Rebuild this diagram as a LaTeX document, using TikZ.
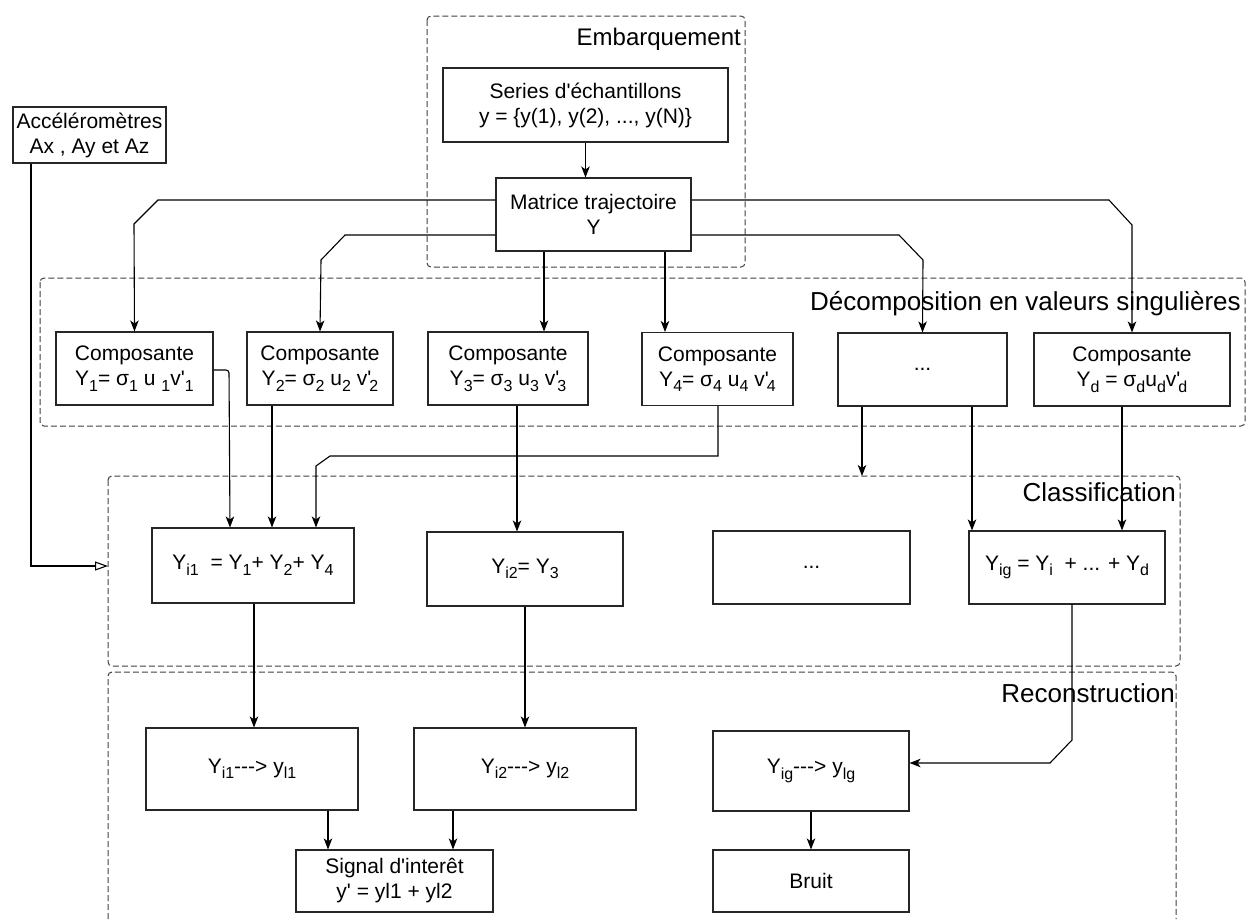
\documentclass[tikz,border=0pt]{standalone}
\usepackage{fontspec}
\setmainfont{Liberation Sans}[Ligatures=TeXOff]
\usetikzlibrary{arrows.meta}

\newcommand\bodyfont{\fontsize{21}{25}\selectfont}
\newcommand\titlefont{\fontsize{26}{30}\selectfont}
\newcommand\sbs[1]{\raisebox{-5.5pt}{\fontsize{16}{16}\selectfont #1}}

\tikzset{
  box/.style={draw=black!85, line width=1.1pt, inner sep=0pt, align=center,
              font=\bodyfont, minimum height=73pt},
  grp/.style={draw=black!75, line width=1pt, dash pattern=on 6pt off 3pt,
              rounded corners=4pt},
  grptitle/.style={anchor=base east, inner sep=0pt, font=\titlefont},
  arr/.style={draw=black, line width=1.1pt,
              -{Stealth[length=11pt, width=8.5pt, inset=3pt]}},
  openarr/.style={draw=black, line width=1.1pt,
              -{Triangle[open, length=13pt, width=9pt]}}
}

\begin{document}
\begin{tikzpicture}[x=1pt, y=-1pt]
\useasboundingbox (0,0) rectangle (1248,919);

% group frames
\draw[grp] (427,16) rectangle (745,267);
\draw[grp] (40,278) rectangle (1245,426);
\draw[grp] (108,476) rectangle (1180,666);
\draw[grp] (108,919) -- (108,672) -- (1176,672) -- (1176,919);

\node[grptitle, font=\fontsize{24}{28}\selectfont] (tEmb) at (741,45) {Embarquement};
\node[grptitle] (tDec) at (1241,310) {Décomposition en valeurs singulières};
\node[grptitle] (tCls) at (1176,501) {Classification};
\node[grptitle] (tRec) at (1175,702) {Reconstruction};

% input and embedding
\node[box, minimum width=153pt, minimum height=56pt] (acc) at (89.5,135)
  {Accéléromètres\\Ax , Ay et Az};
\node[box, minimum width=285pt, minimum height=74pt] (ser) at (585.5,105)
  {Series d'échantillons\\y = \{y(1), y(2), ..., y(N)\}};
\node[box, minimum width=195pt] (mat) at (593.5,214.5)
  {Matrice trajectoire\\Y};

% singular value decomposition
\node[box, minimum width=157pt] (c1) at (134.5,368.5)
  {Composante\\Y\sbs{1}= σ\sbs{1} u \sbs{1}v'\sbs{1}};
\node[box, minimum width=146pt] (c2) at (320,368.5)
  {Composante\\Y\sbs{2}= σ\sbs{2} u\sbs{2} v'\kern-2pt\sbs{2}};
\node[box, minimum width=160pt] (c3) at (508,368.5)
  {Composante\\Y\sbs{3}= σ\sbs{3} u\sbs{3} v'\kern-2pt\sbs{3}};
\node[box, minimum width=151pt] (c4) at (717.5,369)
  {Composante\\Y\sbs{4}= σ\sbs{4} u\sbs{4} v'\kern-2pt\sbs{4}};
\node[box, minimum width=169pt] (cdots) at (922.5,369.5) {...};
\node[box, minimum width=196pt] (cd) at (1132,369.5)
  {Composante\\Y\sbs{d} = σ\sbs{d}u\sbs{d}v'\kern-2pt\sbs{d}};

% classification
\node[box, minimum width=202pt, minimum height=75pt] (yi1) at (253,565.5)
  {Y\sbs{i1} \ = Y\sbs{1}+ Y\sbs{2}+ Y\sbs{4}};
\node[box, minimum width=196pt, minimum height=74pt] (yi2) at (525,569)
  {Y\sbs{i2}= Y\sbs{3}};
\node[box, minimum width=197pt] (ydots) at (811.5,567.5) {...};
\node[box, minimum width=196pt] (yig) at (1067,567.5)
  {Y\sbs{ig} = Y\sbs{i} \ + ... + Y\sbs{d}};

% reconstruction
\node[box, minimum width=212pt, minimum height=82pt] (r1) at (252,769)
  {Y\sbs{i1}-{}-{}-> y\sbs{l1}};
\node[box, minimum width=222pt, minimum height=82pt] (r2) at (525,769)
  {Y\sbs{i2}-{}-{}-> y\sbs{l2}};
\node[box, minimum width=196pt, minimum height=80pt] (rg) at (811,771)
  {Y\sbs{ig}-{}-{}-> y\sbs{lg}};
\node[box, minimum width=197pt, minimum height=62pt] (sig) at (394.5,881)
  {Signal d'interêt\\y' = yl1 + yl2};
\node[box, minimum width=196pt, minimum height=62pt] (bruit) at (811,881) {Bruit};

\coordinate (clsTop) at (862,476);
\coordinate (clsLeft) at (108,566);

% embedding connectors
\draw[arr] (ser.south) -- ([xshift=-8pt]mat.north);
\draw[arr] ([yshift=14.5pt]mat.west) -- (158,200) -- (134,224) -- (c1.north);
\draw[arr] ([yshift=-20.5pt]mat.west) -- (345,235) -- (321,260) -- (c2.north);
\draw[arr] ([xshift=-49.5pt]mat.south) -- ([xshift=36pt]c3.north);
\draw[arr] ([xshift=71.5pt]mat.south) -- ([xshift=-52.5pt]c4.north);
\draw[arr] ([yshift=-20.5pt]mat.east) -- (899,235) -- (923,260) -- (cdots.north);
\draw[arr] ([yshift=14.5pt]mat.east) -- (1109,200) -- (1132,225) -- (cd.north);

% components to groups
\draw[arr, rounded corners=3pt] ([yshift=-1.5pt]c1.east) -- (229,370) -- ([xshift=-23pt]yi1.north);
\draw[arr] ([xshift=-48pt]c2.south) -- ([xshift=19pt]yi1.north);
\draw[arr] ([xshift=0.5pt]c4.south) -- (718,456) -- (330,456) -- (316,466) -- ([xshift=63pt]yi1.north);
\draw[arr] ([xshift=9pt]c3.south) -- ([xshift=-8pt]yi2.north);
\draw[arr] ([xshift=-60.5pt]cdots.south) -- (clsTop);
\draw[arr] ([xshift=49.5pt]cdots.south) -- ([xshift=-95pt]yig.north);
\draw[arr] ([xshift=-10pt]cd.south) -- ([xshift=55pt]yig.north);

% accelerometers feed the classification
\draw[openarr] ([xshift=-58.5pt]acc.south) -- (31,566) -- (clsLeft);

% reconstruction connectors
\draw[arr] ([xshift=1pt]yi1.south) -- ([xshift=2pt]r1.north);
\draw[arr] (yi2.south) -- (r2.north);
\draw[arr] ([xshift=5pt]yig.south) -- (1072,740) -- (1050,763) -- ([yshift=8pt]rg.east);
\draw[arr] ([xshift=76pt]r1.south) -- ([xshift=-66.5pt]sig.north);
\draw[arr] ([xshift=-72pt]r2.south) -- ([xshift=58.5pt]sig.north);
\draw[arr] (rg.south) -- (bruit.north);
\end{tikzpicture}
\end{document}
